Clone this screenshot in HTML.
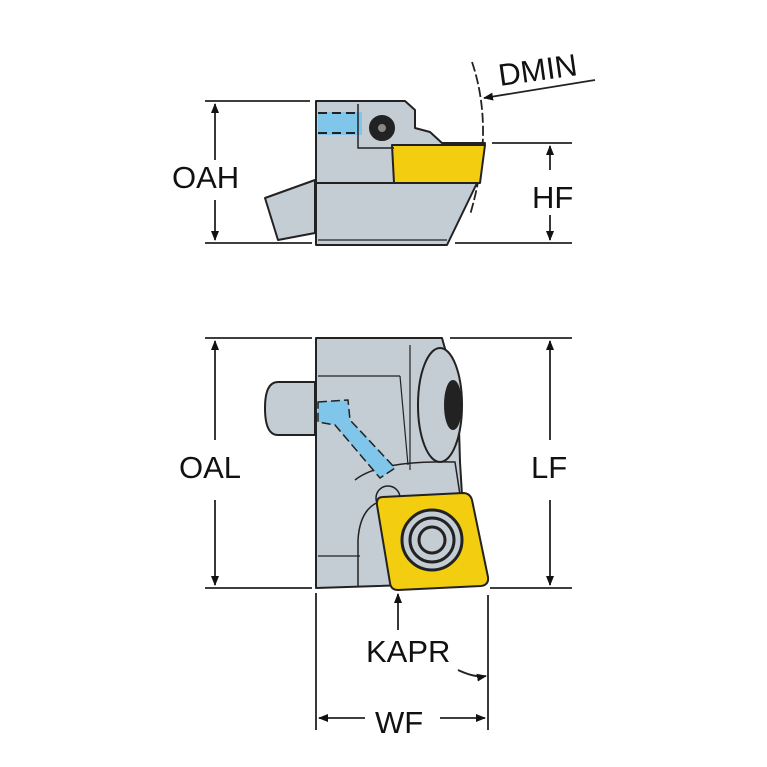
<!DOCTYPE html>
<html><head><style>body{margin:0;background:#fff}svg{display:block}text{font-family:"Liberation Sans",sans-serif;font-size:31px;fill:#111}</style></head><body>
<svg width="767" height="767" viewBox="0 0 767 767">
<defs><marker id="a" markerWidth="10" markerHeight="10" refX="9" refY="5" orient="auto" markerUnits="userSpaceOnUse" viewBox="0 0 10 10"><path d="M0,1 L10,5 L0,9z" fill="#111"/></marker></defs>
<g stroke="#222" stroke-width="1.8" fill="none">
<line x1="205" y1="101" x2="310" y2="101"/><line x1="205" y1="243" x2="312" y2="243"/>
<line x1="215" y1="160" x2="215" y2="104" marker-end="url(#a)"/><line x1="215" y1="200" x2="215" y2="240" marker-end="url(#a)"/>
<line x1="492" y1="143" x2="572" y2="143"/><line x1="455" y1="243" x2="572" y2="243"/>
<line x1="550" y1="170" x2="550" y2="146" marker-end="url(#a)"/><line x1="550" y1="215" x2="550" y2="240" marker-end="url(#a)"/>
<line x1="595" y1="80" x2="484" y2="98" marker-end="url(#a)"/>
<path d="M472,62 Q495,130 470,215" stroke-dasharray="10,3"/>
<line x1="205" y1="338" x2="312" y2="338"/><line x1="205" y1="588" x2="312" y2="588"/>
<line x1="450" y1="338" x2="572" y2="338"/><line x1="490" y1="588" x2="572" y2="588"/>
<line x1="215" y1="440" x2="215" y2="341" marker-end="url(#a)"/><line x1="215" y1="500" x2="215" y2="585" marker-end="url(#a)"/>
<line x1="550" y1="440" x2="550" y2="341" marker-end="url(#a)"/><line x1="550" y1="500" x2="550" y2="585" marker-end="url(#a)"/>
<line x1="316" y1="593" x2="316" y2="730"/><line x1="488" y1="595" x2="488" y2="730"/>
<line x1="365" y1="718" x2="319" y2="718" marker-end="url(#a)"/><line x1="440" y1="718" x2="485" y2="718" marker-end="url(#a)"/>
<line x1="398" y1="630" x2="398" y2="594" marker-end="url(#a)"/>
<path d="M458,670 Q475,678 486,676" marker-end="url(#a)"/>
</g>
<g stroke="#222" stroke-width="2" stroke-linejoin="round">
<path d="M315,180 L265,198 L278,240 L315,233z" fill="#c4ccd4"/>
<path d="M316,101 L405,101 L415,110 L415,128 L430,132 L442,143 L485,143 L477,183 L447,245 L316,245z" fill="#c4ccd4"/>
<line x1="316" y1="183" x2="477" y2="183"/>
<path d="M392,145 L485,145 L480,183 L394,183z" fill="#f2cd10"/>
<path d="M318,112 L362,112 L362,135 L318,135z" fill="#80c6ea" stroke="none"/>
<line x1="318" y1="113" x2="360" y2="113" stroke-dasharray="9,5"/><line x1="318" y1="133" x2="360" y2="133" stroke-dasharray="9,5"/>
<path d="M358,104 L358,148 L394,148" fill="none" stroke-width="1.5"/>
<circle cx="382" cy="128" r="12" fill="#222"/><circle cx="382" cy="128" r="5" fill="#888"/>
<line x1="318" y1="240" x2="447" y2="240" stroke-width="1.2"/>
</g>
<g stroke="#222" stroke-width="2" stroke-linejoin="round">
<path d="M315,382 L278,382 Q265,382 265,408 Q265,435 278,435 L315,435z" fill="#c4ccd4"/>
<path d="M316,338 L442,338 L458,395 L460,462 L462,495 L470,583 L316,588z" fill="#c4ccd4"/>
<line x1="318" y1="376" x2="400" y2="376" stroke-width="1.2"/>
<line x1="400" y1="376" x2="408" y2="465" stroke-width="1.2"/>
<line x1="410" y1="345" x2="410" y2="470" stroke-width="1.2"/>
<line x1="318" y1="556" x2="360" y2="556" stroke-width="1.2"/>
<ellipse cx="440" cy="405" rx="22" ry="57" fill="#c4ccd4"/>
<ellipse cx="453" cy="405" rx="8" ry="24" fill="#222"/>
<path d="M355,480 Q380,460 455,462 L460,495 L385,500 Q360,505 358,540 L358,586" fill="none" stroke-width="1.5"/>
<path d="M318,402 L348,400 L350,420 L395,468 L380,478 L335,425 L318,422z" fill="#80c6ea" stroke-dasharray="9,4" stroke-width="1.5"/>
<circle cx="388" cy="498" r="12" fill="#c4ccd4" stroke-width="1.5"/>
<path d="M383,497 L463,493 Q470,493 472,500 L488,577 Q489,585 481,586 L398,590 Q391,590 390,583 L377,505 Q376,497 383,497z" fill="#f2cd10"/>
<circle cx="432" cy="540" r="30" fill="#c4ccd4" stroke-width="3"/>
<circle cx="432" cy="540" r="22" fill="#c4ccd4" stroke-width="3"/>
<circle cx="432" cy="540" r="13" fill="#c4ccd4" stroke-width="3"/>
</g>
<text x="172" y="188">OAH</text>
<text x="532" y="208">HF</text>
<text x="500" y="86" transform="rotate(-8 500 86)">DMIN</text>
<text x="179" y="478">OAL</text>
<text x="531" y="478">LF</text>
<text x="366" y="662">KAPR</text>
<text x="375" y="733">WF</text>
</svg>
</body></html>
